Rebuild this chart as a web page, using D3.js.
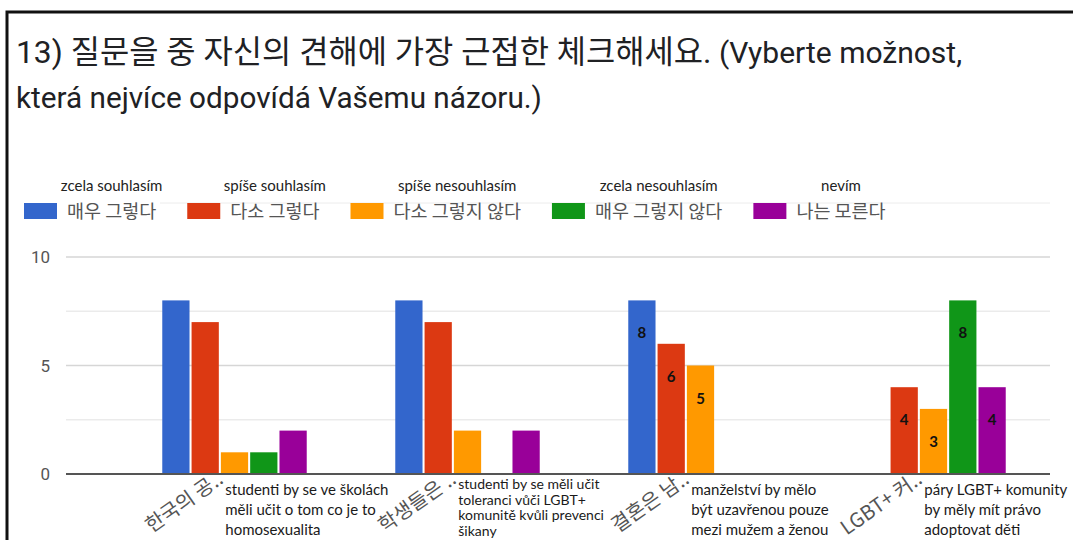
<!DOCTYPE html>
<html>
<head>
<meta charset="utf-8">
<script src="https://cdn.jsdelivr.net/npm/d3@7"></script>
<style>
  body { margin: 0; background: #fff; }
  svg { display: block; }
</style>
</head>
<body>
<svg id="chart"></svg>
<script>
// données du graphique
const titleKo = "13) 질문을 중 자신의 견해에 가장 근접한 체크해세요."
const titleLines = [" (Vyberte možnost,", "která nejvíce odpovídá Vašemu názoru.)"]
const seriesKo = ["매우 그렇다", "다소 그렇다", "다소 그렇지 않다", "매우 그렇지 않다", "나는 모른다"]
const seriesCz = ["zcela souhlasím", "spíše souhlasím", "spíše nesouhlasím", "zcela nesouhlasím", "nevím"]
const categories = ["한국의 공..", "학생들은 ..", "결혼은 남..", "LGBT+ 커.."]
const notes = [
  ["studenti by se ve školách", "měli učit o tom co je to", "homosexualita"],
  ["studenti by se měli učit", "toleranci vůči LGBT+", "komunitě kvůli prevenci", "šikany"],
  ["manželství by mělo", "být uzavřenou pouze", "mezi mužem a ženou"],
  ["páry LGBT+ komunity", "by měly mít právo", "adoptovat děti"]
]
const values = [
  [8, 7, 1, 1, 2],
  [8, 7, 2, 0, 2],
  [8, 6, 5, 0, 0],
  [0, 4, 3, 8, 4]
]
const labeledGroups = [2, 3]
const yTicks = [0, 5, 10]
const yGrid = [0, 2.5, 5, 7.5, 10]
const colors = ["#3366cc", "#dc3912", "#ff9900", "#109618", "#990099"]

var WIDTH = 1073
var HEIGHT = 540
const KO = "'Noto Sans CJK KR', sans-serif"
const CZ = "Lato, 'Noto Sans', sans-serif"
const TITLE = "Roboto, 'Noto Sans CJK KR', sans-serif"

const svg = d3.select('#chart')
    .attr('width', WIDTH)
    .attr('height', HEIGHT)

// cadre noir
svg.append('path')
    .attr('d', 'M7,540V12H1073')
    .attr('fill', 'none')
    .attr('stroke', '#111')
    .attr('stroke-width', 3)

// titre (deux lignes)
const t1 = svg.append('text')
    .attr('x', 16).attr('y', 63)
    .style('font-family', TITLE)
    .attr('fill', '#202124')
t1.append('tspan').style('font-size', '31.8px').text(titleKo)
t1.append('tspan').style('font-size', '30px').text(titleLines[0])
svg.append('text')
    .attr('x', 16).attr('y', 108)
    .style('font-family', TITLE)
    .style('font-size', '29.7px')
    .attr('fill', '#202124')
    .text(titleLines[1])

// ligne pâle derrière la légende
svg.append('line')
    .attr('x1', 160).attr('x2', 1050)
    .attr('y1', 203).attr('y2', 203)
    .attr('stroke', '#ececec')

// légende
const legend = svg.append('g')
let lx = 24
seriesKo.forEach((s, i) => {
    const item = legend.append('g')
    item.append('rect')
        .attr('x', lx).attr('y', 203)
        .attr('width', 33).attr('height', 16)
        .attr('fill', colors[i])
    const t = item.append('text')
        .attr('x', lx + 43).attr('y', 218)
        .style('font-family', KO)
        .style('font-size', '18.5px')
        .attr('fill', '#555')
        .text(s)
    const w = t.node().getComputedTextLength()
    item.append('text')
        .attr('x', lx + 43 + w / 2).attr('y', 191)
        .attr('text-anchor', 'middle')
        .style('font-family', CZ)
        .style('font-size', '15px')
        .attr('fill', '#222')
        .text(seriesCz[i])
    lx += 43 + w + 31
})

// échelles
const x0 = d3.scaleBand()
    .domain(categories)
    .range([118, 1050])
    .paddingInner(0.38)
    .paddingOuter(0.19)
const x1 = d3.scaleBand()
    .domain(d3.range(seriesKo.length))
    .range([0, x0.bandwidth()])
    .paddingInner(0.07)
const y = d3.scaleLinear()
    .domain([0, 10])
    .range([474, 257])

// grille
svg.append('g').selectAll('line')
    .data(yGrid)
    .enter()
    .append('line')
    .attr('x1', 66).attr('x2', 1050)
    .attr('y1', d => y(d)).attr('y2', d => y(d))
    .attr('stroke', d => d % 5 == 0 ? '#d6d6d6' : '#ebebeb')
    .attr('stroke-width', 1.5)

svg.append('g').selectAll('text')
    .data(yTicks)
    .enter()
    .append('text')
    .attr('x', 50)
    .attr('y', d => y(d))
    .attr('dy', '0.36em')
    .attr('text-anchor', 'end')
    .style('font-family', 'Roboto, Arial, sans-serif')
    .style('font-size', '17px')
    .attr('fill', '#555')
    .text(d => d)

// barres
const groups = svg.append('g').selectAll('g')
    .data(categories)
    .enter()
    .append('g')
    .attr('transform', d => 'translate(' + x0(d) + ',0)')

groups.selectAll('rect')
    .data((d, i) => values[i].map((v, j) => ({ v: v, j: j })))
    .enter()
    .filter(d => d.v > 0)
    .append('rect')
    .attr('x', d => x1(d.j))
    .attr('y', d => y(d.v))
    .attr('width', x1.bandwidth())
    .attr('height', d => y(0) - y(d.v))
    .attr('fill', d => colors[d.j])

// étiquettes des valeurs
groups.filter((d, i) => labeledGroups.includes(i))
    .selectAll('text.val')
    .data(d => values[categories.indexOf(d)].map((v, j) => ({ v: v, j: j })).filter(e => e.v > 0))
    .enter()
    .append('text')
    .attr('class', 'val')
    .attr('x', d => x1(d.j) + x1.bandwidth() / 2)
    .attr('y', d => y(d.v) + 38)
    .attr('text-anchor', 'middle')
    .style('font-family', CZ)
    .style('font-size', '15px')
    .style('font-weight', 'bold')
    .attr('fill', '#111')
    .text(d => d.v)

// ligne de base
svg.append('line')
    .attr('x1', 66).attr('x2', 1050)
    .attr('y1', y(0)).attr('y2', y(0))
    .attr('stroke', '#555')
    .attr('stroke-width', 2)

// étiquettes coréennes inclinées
svg.append('g').selectAll('text')
    .data(categories)
    .enter()
    .append('text')
    .attr('transform', d => 'translate(' + (x0(d) + x0.bandwidth() / 2 - 10) + ',482) rotate(-35)')
    .attr('text-anchor', 'end')
    .style('font-family', KO)
    .style('font-size', '20px')
    .attr('fill', '#555')
    .text(d => d)

// notes en tchèque
notes.forEach((lines, i) => {
    const small = i == 1
    svg.append('text')
        .attr('x', x0(categories[i]) + 63)
        .attr('y', small ? 489 : 495)
        .style('font-family', CZ)
        .style('font-size', small ? '14px' : '15px')
        .attr('fill', '#1a1a1a')
        .selectAll('tspan')
        .data(lines)
        .enter()
        .append('tspan')
        .attr('x', x0(categories[i]) + 63)
        .attr('dy', (d, k) => k == 0 ? 0 : (small ? 15.5 : 20))
        .text(d => d)
})
</script>
</body>
</html>
